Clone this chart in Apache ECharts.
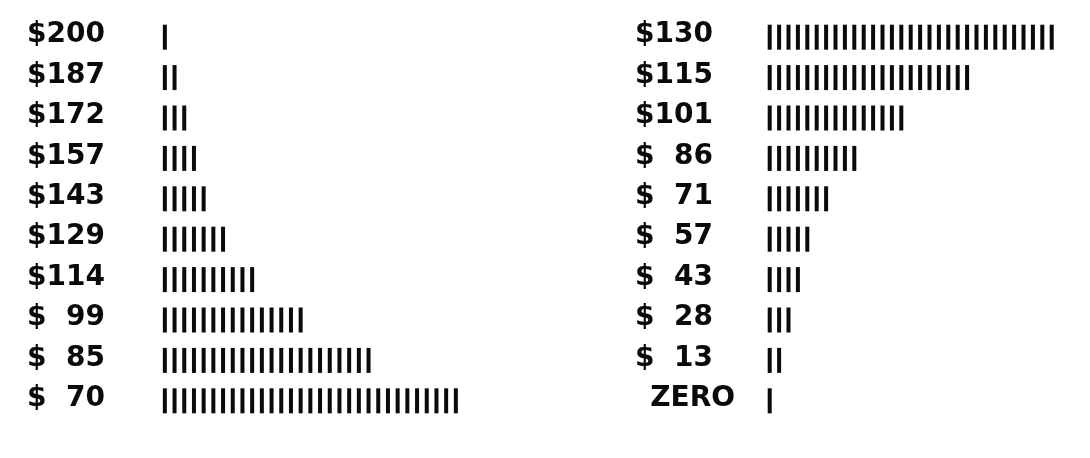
<!DOCTYPE html>
<html>
<head>
<meta charset="utf-8">
<script src="https://cdn.jsdelivr.net/npm/echarts@6/dist/echarts.min.js"></script>
<style>
  html, body { margin: 0; padding: 0; background: #fff; }
  #chart { width: 1090px; height: 458px; }
</style>
</head>
<body>
<div id="chart"></div>
<script>
// Left column: price classes and tally counts
const leftLabels = ["$200", "$187", "$172", "$157", "$143", "$129", "$114", "$ 99", "$ 85", "$ 70"];
const leftCounts = [1, 2, 3, 4, 5, 7, 10, 15, 22, 31];
// Right column: price classes and tally counts
const rightLabels = ["$130", "$115", "$101", "$ 86", "$ 71", "$ 57", "$ 43", "$ 28", "$ 13", "ZERO"];
const rightCounts = [31, 22, 15, 10, 7, 5, 4, 3, 2, 1];

const FONT = "DejaVu Sans";
const INK = "#0a0a0a";

function labelFormatter(v) {
  if (v.indexOf("$") !== 0) return "{z|" + v + "}";
  const num = v.slice(1).trim();
  return "{s|$}{n|" + num + "}";
}

function richStyles(padRight) {
  const base = { fontFamily: FONT, fontWeight: "bold", fontSize: 28, color: INK };
  return {
    s: Object.assign({}, base, { width: 34, align: "left" }),
    n: Object.assign({}, base, { width: 44, align: "right", padding: [0, padRight, 0, 0] }),
    z: Object.assign({}, base, { align: "right" })
  };
}

function yAxisFor(idx, cats, margin, padRight) {
  return {
    type: "category", gridIndex: idx, data: cats, inverse: true,
    axisLine: { show: false }, axisTick: { show: false }, splitLine: { show: false },
    axisLabel: { margin: margin, formatter: labelFormatter, rich: richStyles(padRight) }
  };
}

function tallySeries(idx, counts) {
  return {
    type: "pictorialBar", xAxisIndex: idx, yAxisIndex: idx,
    symbol: "rect", symbolSize: [4, 25], symbolMargin: "1!",
    symbolOffset: [0, 2],
    itemStyle: { color: INK },
    data: counts.map(c => ({ value: c, symbolRepeat: c, symbolBoundingData: c })),
    silent: true
  };
}

const chart = echarts.init(document.getElementById("chart"));
chart.setOption({
  animation: false,
  backgroundColor: "#ffffff",
  grid: [
    { left: 160, width: 32 * 9.7, top: 15, bottom: 39 },
    { left: 765, width: 32 * 9.4, top: 15, bottom: 39 }
  ],
  xAxis: [
    { type: "value", gridIndex: 0, min: 0, max: 32, show: false },
    { type: "value", gridIndex: 1, min: 0, max: 32, show: false }
  ],
  yAxis: [
    yAxisFor(0, leftLabels, 55, 0),
    yAxisFor(1, rightLabels, 30, 22)
  ],
  series: [
    tallySeries(0, leftCounts),
    tallySeries(1, rightCounts)
  ]
});
</script>
</body>
</html>
